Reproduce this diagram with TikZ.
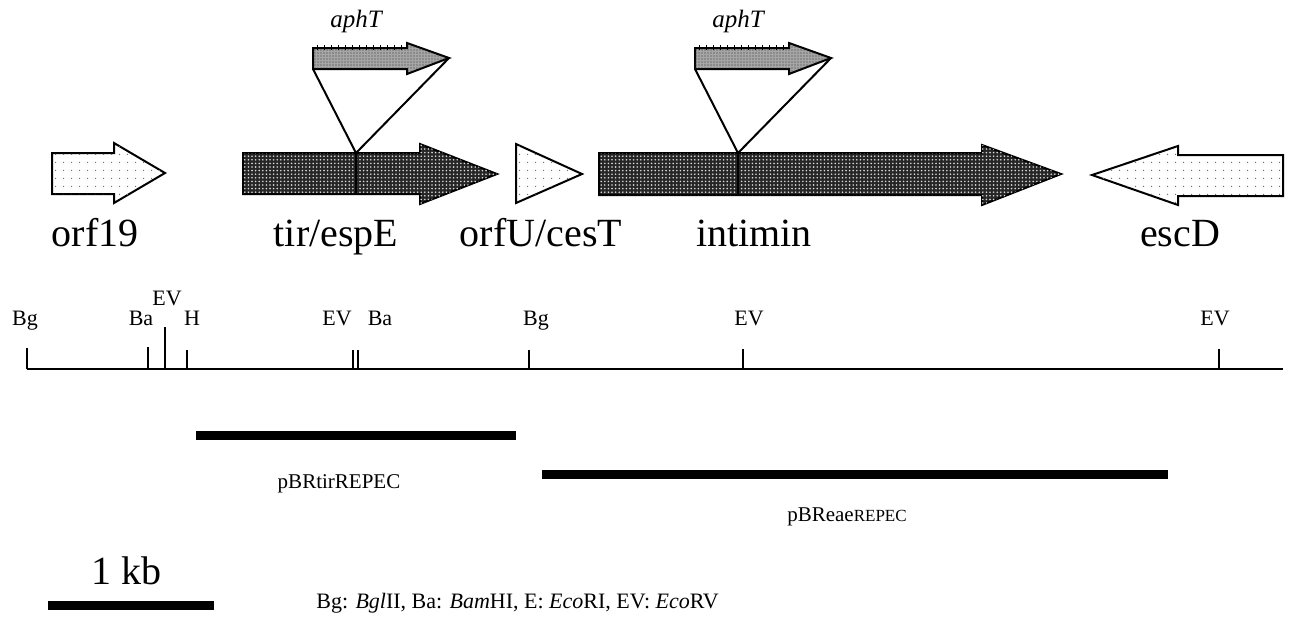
\documentclass[tikz,border=0pt]{standalone}
\usepackage{fontspec}
\setmainfont{Liberation Serif}
\usetikzlibrary{patterns.meta}
\begin{document}
\begin{tikzpicture}[x=0.5pt,y=-0.5pt,
  outline/.style={draw=black, line width=1pt, line join=miter},
  lightgene/.style={outline, fill=white, postaction={pattern={Dots[distance=4pt,radius=0.4pt]}, pattern color=black!55}},
  darkgene/.style={outline, fill=black!85, postaction={pattern={Dots[distance=1.8pt,radius=0.45pt]}, pattern color=white!85!black}},
  aphbox/.style={outline, fill=black!35, postaction={pattern={Dots[distance=1.5pt,radius=0.35pt]}, pattern color=black!80}},
  genelab/.style={font=\fontsize{20}{22}\selectfont, anchor=base, inner sep=0pt},
  aphlab/.style={font=\fontsize{12.5}{13}\selectfont\itshape, anchor=base, inner sep=0pt},
  sitelab/.style={font=\fontsize{11}{12}\selectfont, anchor=base, inner sep=0pt},
  plasmid/.style={font=\fontsize{10.5}{11}\selectfont, inner sep=0pt},
  legend/.style={font=\fontsize{11}{12}\selectfont, inner sep=0pt},
  bar/.style={line width=4.5pt},
  inslink/.style={line width=1pt},
  tick/.style={line width=0.9pt}
]
\useasboundingbox (0,0) rectangle (1294,617);

% ---------------- genes
\path[lightgene] (52,153) -- (114,153) -- (114,143) -- (165,173) -- (114,203) -- (114,194) -- (52,194) -- cycle;
\path[darkgene] (243,153) -- (420,153) -- (420,144) -- (497,174) -- (420,204) -- (420,194) -- (243,194) -- cycle;
\path[lightgene] (516,144) -- (582,174) -- (516,203) -- cycle;
\path[darkgene] (599,153) -- (982,153) -- (982,145) -- (1061,174) -- (982,205) -- (982,195) -- (599,195) -- cycle;
\path[lightgene] (1283,155) -- (1178,155) -- (1178,146) -- (1092,175) -- (1178,205) -- (1178,196) -- (1283,196) -- cycle;

% insertion points
\coordinate (ins1top) at (356,153);
\coordinate (ins1bot) at (356,194);
\coordinate (ins2top) at (738,153);
\coordinate (ins2bot) at (738,195);
\draw[line width=1.4pt] (ins1top) -- (ins1bot);
\draw[line width=1.4pt] (ins2top) -- (ins2bot);

% ---------------- aphT cassettes
\foreach \dx/\nm in {0/a, 382/b}{
  \begin{scope}[xshift=\dx*0.5pt]
    \path[aphbox] (313,48) -- (407,48) -- (407,43) -- (449,58) -- (407,74) -- (407,69) -- (313,69) -- cycle;
    \foreach \t in {317,324,...,405}{\draw[line width=0.5pt] (\t,45) -- (\t,50);}
    \coordinate (\nm bl) at (313,69);
    \coordinate (\nm tip) at (449,58);
  \end{scope}
}
\draw[inslink] (abl) -- (ins1top) -- (atip);
\draw[inslink] (bbl) -- (ins2top) -- (btip);

\node[aphlab] (aph1) at (356,27) {aphT};
\node[aphlab] (aph2) at (738,27) {aphT};

% gene labels
\node[genelab] (lorf19) at (95,246) {orf19};
\node[genelab] (ltir) at (336,246) {tir/espE};
\node[genelab] (lorfU) at (541,246) {orfU/cesT};
\node[genelab] (lint) at (754,246) {intimin};
\node[genelab] (lesc) at (1180,246) {escD};

% ---------------- restriction map
\coordinate (mapL) at (27,369);
\coordinate (mapR) at (1283,369);
\draw[line width=1pt] (mapL) -- (mapR);
\foreach \x/\top in {27/348, 148/347, 165/327, 187/350, 353/350, 358/350, 529/350, 743/349, 1219/349}{
  \draw[tick] (\x,369) -- (\x,\top);
}
\node[sitelab] (s1) at (25,325) {Bg};
\node[sitelab] (s2) at (141,325) {Ba};
\node[sitelab] (s3) at (167,305) {EV};
\node[sitelab] (s4) at (192,325) {H};
\node[sitelab] (s5) at (337,325) {EV};
\node[sitelab] (s6) at (380,325) {Ba};
\node[sitelab] (s7) at (536,325) {Bg};
\node[sitelab] (s8) at (749,325) {EV};
\node[sitelab] (s9) at (1215,325) {EV};

% ---------------- clones
\coordinate (c1a) at (196,435);
\coordinate (c1b) at (516,435);
\coordinate (c2a) at (542,474);
\coordinate (c2b) at (1168,474);
\draw[bar] (c1a) -- (c1b);
\draw[bar] (c2a) -- (c2b);
\node[plasmid] (p1) at (339,484) {pBRtirREPEC};
\node[plasmid] (p2) at (847,517) {pBReae{\fontsize{8.5}{9}\selectfont REPEC}};

% ---------------- scale and legend
\coordinate (sca) at (48,605);
\coordinate (scb) at (214,605);
\draw[bar] (sca) -- (scb);
\node[genelab] (kb) at (126,584) {1 kb};
\node[legend, anchor=west] (leg) at (316,603) {Bg: \textit{Bgl}II, Ba: \textit{Bam}HI, E: \textit{Eco}RI, EV: \textit{Eco}RV};
\end{tikzpicture}
\end{document}
